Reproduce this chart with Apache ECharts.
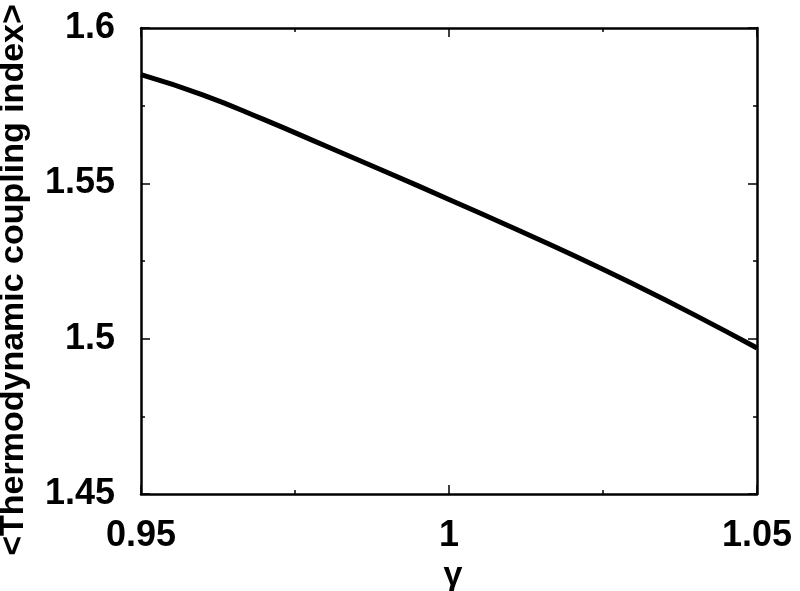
<!DOCTYPE html>
<html>
<head>
<meta charset="utf-8">
<script src="https://cdn.jsdelivr.net/npm/echarts@6/dist/echarts.min.js"></script>
<style>
  html, body { margin: 0; padding: 0; background: #fff; }
</style>
</head>
<body>
<!-- coupling index vs gamma -->
<div id="chart" style="width: 800px; height: 591px"></div>
<script>
// gamma values
const gammaValues = [0.95, 0.96, 0.97, 0.98, 0.99, 1.0, 1.01, 1.02, 1.03, 1.04, 1.05];
// <Thermodynamic coupling index>
const couplingIndex = [1.585, 1.5785, 1.5705, 1.562, 1.5535, 1.5448, 1.536, 1.527, 1.5175, 1.5075, 1.497];

const font = 'Liberation Sans, Arial, sans-serif';

const chart = echarts.init(document.getElementById('chart'));

// same ticks on every side of the box
function boxAxis(type, pos, min, max, showLabel, extra) {
  return Object.assign({
    type: 'value',
    position: pos,
    min: min,
    max: max,
    interval: 0.05,
    axisLine: { show: true, onZero: false, lineStyle: { color: '#000', width: 2.5 } },
    axisTick: { show: true, inside: true, length: 9, lineStyle: { color: '#000', width: 1.5 } },
    minorTick: { show: true, splitNumber: 2, length: 4, lineStyle: { color: '#000', width: 1.5 } },
    splitLine: { show: false },
    minorSplitLine: { show: false },
    axisLabel: {
      show: showLabel,
      color: '#000',
      fontFamily: font,
      fontWeight: 'bold',
      fontSize: 36,
      margin: type === 'x' ? 24 : 26,
      formatter: (v) => String(Math.round(v * 1000) / 1000),
    },
  }, extra || {});
}

const option = {
  animation: false,
  backgroundColor: '#fff',
  grid: { left: 141, right: 43, top: 28, bottom: 97, containLabel: false, outerBoundsMode: 'none' },
  xAxis: [
    boxAxis('x', 'bottom', 0.95, 1.05, true, {
      name: 'γ',
      nameLocation: 'middle',
      nameGap: 56,
      nameTextStyle: { color: '#000', fontFamily: font, fontWeight: 'bold', fontSize: 34, padding: [0, 0, 0, 8] },
    }),
    boxAxis('x', 'top', 0.95, 1.05, false),
  ],
  yAxis: [
    boxAxis('y', 'left', 1.45, 1.6, true, {
      name: '<Thermodynamic coupling index>',
      nameLocation: 'middle',
      nameGap: 110,
      nameTextStyle: { color: '#000', fontFamily: font, fontWeight: 'bold', fontSize: 34, padding: [0, 38, 0, 0] },
    }),
    boxAxis('y', 'right', 1.45, 1.6, false),
  ],
  series: [
    {
      type: 'line',
      xAxisIndex: 0,
      yAxisIndex: 0,
      data: gammaValues.map((g, i) => [g, couplingIndex[i]]),
      showSymbol: false,
      smooth: true,
      lineStyle: { color: '#000', width: 5 },
    },
  ],
};

chart.setOption(option);
</script>
</body>
</html>
